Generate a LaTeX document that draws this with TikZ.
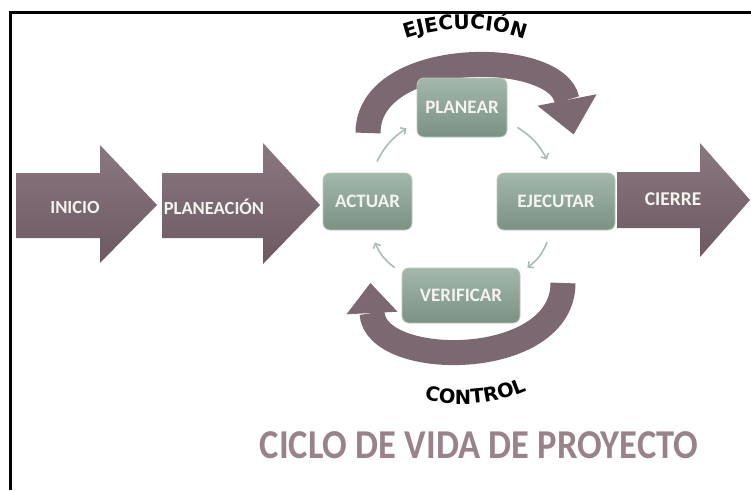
\documentclass[tikz,border=0pt]{standalone}
\usepackage{fontspec}
\usepackage{xcolor}
\usetikzlibrary{positioning,arrows.meta,decorations.text,calc}
\newfontfamily\boxfont{Carlito}
\newfontfamily\arcfont{DejaVu Sans}
\definecolor{mauve}{HTML}{7B6870}
\definecolor{mauvelt}{HTML}{8A7880}
\definecolor{mauvedk}{HTML}{6C5961}
\definecolor{sagelt}{HTML}{A3B8AB}
\definecolor{sagedk}{HTML}{7A9184}
\definecolor{sagerim}{HTML}{B9C9BF}
\definecolor{cyclc}{HTML}{A9BDB2}
\definecolor{txtc}{HTML}{F4F4EF}
\definecolor{titlec}{HTML}{998389}

\begin{document}
\begin{tikzpicture}[x=1pt,y=-1pt,
  stage/.style={top color=mauvelt,bottom color=mauvedk},
  stagetxt/.style={font=\boxfont\bfseries\fontsize{18.5}{20}\selectfont,text=txtc},
  pdca/.style={rounded corners=7pt,top color=sagelt,bottom color=sagedk,draw=sagerim,
               line width=0.8pt,minimum height=57pt,inner sep=0pt,
               font=\boxfont\bfseries\fontsize{19}{20}\selectfont,text=txtc},
  band/.style={draw=mauve,line width=25pt},
  cyc/.style={draw=cyclc,line width=1.6pt,-{Straight Barb[length=4pt,width=8pt]}},
  arctxt/.style={decorate,decoration={text along path,text align=center,text color=black}}]
\useasboundingbox (0,0) rectangle (751,490);
\draw[line width=3pt] (751,12) -- (10.5,12) -- (10.5,490);

\path[stage] (16,173) -- (100,173) -- (100,145) -- (157,205) -- (100,263) -- (100,238) -- (16,238) -- cycle;
\path[stage] (162,173) -- (263,173) -- (263,143) -- (320,205) -- (263,264) -- (263,238) -- (162,238) -- cycle;
\path[stage] (617,172) -- (700,172) -- (700,143) -- (750,200) -- (700,257) -- (700,228) -- (617,228) -- cycle;
\node[stagetxt] (ini) at (75,207) {INICIO};
\node[stagetxt] (pln) at (214,207) {PLANEACIÓN};
\node[stagetxt,font=\boxfont\bfseries\fontsize{19.5}{20}\selectfont] (cie) at (673,199) {CIERRE};

\draw[band] (368,133) .. controls (368,48) and (557,48) .. (567,100);
\fill[mauve] (537.5,105.7) -- (596.5,94.3) -- (573.6,134.4) -- cycle;
\draw[band] (563,283) .. controls (563,370) and (375,370) .. (372,313);
\fill[mauve] (397.5,311.7) -- (346.5,314.3) -- (370.4,283) -- cycle;

\node[pdca,minimum width=89pt] (act) at (367.5,201.5) {ACTUAR};
\node[pdca,minimum width=90pt,minimum height=59pt] (plan) at (462,107.5) {PLANEAR};
\node[pdca,minimum width=118pt] (ejec) at (556,201.5) {EJECUTAR};
\node[pdca,minimum width=118pt,minimum height=55pt] (ver) at (461,295.5) {VERIFICAR};

\draw[cyc] ([shift={(9.5,-11)}]act.north) to[bend left=15] ([shift={(-10,-9)}]plan.south west);
\draw[cyc] ([shift={(10,-10)}]plan.south east) to[bend left=15] ([shift={(-9,-13)}]ejec.north);
\draw[cyc] ([shift={(-9,12)}]ejec.south) to[bend left=15] ([shift={(7,0)}]ver.north east);
\draw[cyc] ([shift={(-7,0)}]ver.north west) to[bend left=15] ([shift={(7.5,12)}]act.south);

\coordinate (ejc) at (465,214);
\coordinate (ctc) at (462,240);
\path[arctxt,decoration={text={|\arcfont\bfseries\fontsize{20}{20}\selectfont|EJECUCIÓN}}]
  ([shift={(245:185)}]ejc) arc[start angle=245,end angle=295,radius=185];
\path[arctxt,decoration={text={|\arcfont\bfseries\fontsize{19.5}{19.5}\selectfont|CONTROL}}]
  ([shift={(113:164)}]ctc) arc[start angle=113,end angle=57,radius=164];

\node[font=\boxfont\bfseries\fontsize{41}{41}\selectfont,text=titlec,xscale=0.89] (ttl) at (479,445) {CICLO DE VIDA DE PROYECTO};
\end{tikzpicture}
\end{document}
